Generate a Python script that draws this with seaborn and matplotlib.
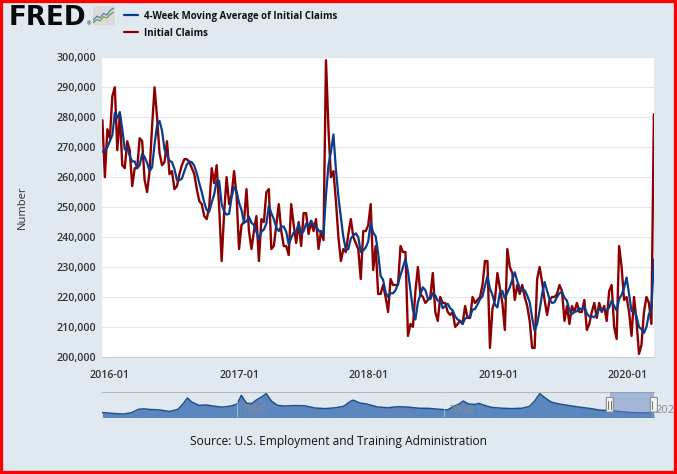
import numpy as np
import pandas as pd
import matplotlib
matplotlib.use("Agg")
import matplotlib.pyplot as plt
import matplotlib.dates as mdates
from matplotlib.lines import Line2D
from matplotlib.patches import Rectangle, FancyBboxPatch
from matplotlib.transforms import blended_transform_factory
from matplotlib.ticker import FuncFormatter
import seaborn as sns

# ---------------- data (thousands) ----------------
first_week = "2015-12-12"   # weekly, week ending Saturday

initial_claims_k = [
    279, 260, 276, 273, 287, 290, 269, 281, 264, 263,
    272, 269, 257, 263, 263, 273, 272, 259, 255, 262,
    277, 290, 280, 268, 264, 265, 272, 261, 262, 256,
    257, 261, 264, 266, 266, 265, 263, 261, 256, 252,
    251, 247, 246, 250, 263, 258, 264, 250, 232, 248,
    260, 251, 254, 262, 254, 236, 244, 245, 256, 242,
    236, 242, 247, 232, 246, 245, 255, 256, 236, 237,
    244, 251, 242, 237, 237, 234, 251, 244, 238, 245,
    237, 248, 248, 241, 245, 242, 246, 236, 242, 239,
    299, 276, 260, 262, 252, 240, 232, 236, 235, 241,
    246, 240, 238, 236, 226, 242, 242, 244, 251, 229,
    237, 221, 221, 224, 220, 215, 226, 224, 224, 224,
    237, 235, 235, 207, 211, 210, 222, 230, 221, 220,
    218, 219, 220, 228, 215, 212, 220, 218, 218, 215,
    214, 215, 210, 211, 212, 211, 217, 213, 213, 220,
    218, 219, 220, 224, 232, 232, 203, 216, 219, 228,
    223, 218, 209, 236, 230, 228, 219, 224, 221, 224,
    220, 217, 212, 203, 203, 226, 230, 225, 219, 214,
    219, 220, 220, 221, 224, 222, 212, 217, 211, 217,
    215, 218, 215, 215, 219, 209, 211, 215, 218, 213,
    218, 215, 217, 212, 222, 224, 210, 206, 237, 230,
    219, 220, 215, 207, 220, 212, 201, 204, 215, 220,
    218, 211, 281,
]

moving_avg_k = [
    268.5, 269.0, 270.0, 272.0, 274.0, 281.5, 279.75, 281.75, 276.0, 269.25,
    270.0, 267.0, 265.25, 265.25, 263.0, 264.0, 267.75, 266.75, 264.75, 262.0,
    263.25, 271.0, 277.25, 278.75, 275.5, 269.25, 267.25, 265.5, 265.0, 262.75,
    259.0, 259.0, 259.5, 262.0, 264.25, 265.25, 265.0, 263.75, 261.25, 258.0,
    255.0, 251.5, 249.0, 248.5, 251.5, 254.25, 258.75, 258.75, 251.0, 248.5,
    247.5, 247.75, 253.25, 256.75, 255.25, 251.5, 249.0, 244.75, 245.25, 246.75,
    244.75, 244.0, 241.75, 239.25, 241.75, 242.5, 244.5, 250.5, 248.0, 246.0,
    243.25, 242.0, 243.5, 243.5, 241.75, 237.5, 239.75, 241.5, 241.75, 244.5,
    241.0, 242.0, 244.5, 243.5, 245.5, 244.0, 243.5, 242.25, 241.5, 240.75,
    254.0, 264.0, 268.5, 274.25, 262.5, 253.5, 246.5, 240.0, 235.75, 236.0,
    239.5, 240.5, 241.25, 240.0, 235.0, 235.5, 236.5, 238.5, 244.75, 241.5,
    240.25, 234.5, 227.0, 225.75, 221.5, 220.0, 221.25, 221.25, 222.25, 224.5,
    227.25, 230.0, 232.75, 228.5, 222.0, 215.75, 212.5, 218.25, 220.75, 223.25,
    222.25, 219.5, 219.25, 221.25, 220.5, 218.75, 218.75, 216.25, 217.0, 217.75,
    216.25, 215.5, 213.5, 212.5, 212.0, 211.0, 212.75, 213.25, 213.5, 215.75,
    216.0, 217.5, 219.25, 220.25, 223.75, 227.0, 222.75, 220.75, 217.5, 216.5,
    221.5, 222.0, 219.5, 221.5, 223.25, 225.75, 228.25, 225.25, 223.0, 222.0,
    222.25, 220.5, 218.25, 213.0, 208.75, 211.0, 215.5, 221.0, 225.0, 222.0,
    219.25, 218.0, 218.25, 220.0, 221.25, 221.75, 219.75, 218.75, 215.5, 214.25,
    215.0, 215.25, 216.25, 215.75, 216.75, 214.5, 213.5, 213.5, 213.25, 214.25,
    216.0, 216.0, 215.75, 215.5, 216.5, 218.75, 217.0, 215.5, 219.25, 220.75,
    223.0, 226.5, 221.0, 215.25, 215.5, 213.5, 210.0, 209.25, 208.0, 210.0,
    214.25, 216.0, 232.5,
]

# navigator: long history of initial claims (thousands), by fractional year
nav_years = [1967.0, 1968.0, 1969.0, 1969.8, 1970.5, 1971.0, 1971.6, 1972.5, 1973.5,
             1974.3, 1974.8, 1975.2, 1975.6, 1976.3, 1977.0, 1977.8, 1978.6, 1979.4,
             1980.0, 1980.4, 1980.9, 1981.4, 1981.9, 1982.4, 1982.8, 1983.3, 1983.9,
             1984.6, 1985.5, 1986.5, 1987.5, 1988.5, 1989.5, 1990.3, 1990.9, 1991.2,
             1991.8, 1992.5, 1993.5, 1994.5, 1995.5, 1996.5, 1997.5, 1998.5, 1999.5,
             2000.3, 2000.9, 2001.4, 2001.8, 2002.3, 2002.9, 2003.3, 2003.8, 2004.5,
             2005.5, 2006.5, 2007.5, 2008.2, 2008.7, 2009.2, 2009.7, 2010.3, 2011.0,
             2012.0, 2013.0, 2014.0, 2015.0, 2016.0, 2017.0, 2018.0, 2019.0, 2020.2]
nav_claims_k = [225, 205, 190, 220, 300, 310, 295, 285, 250,
                300, 430, 560, 470, 390, 400, 370, 350, 375,
                420, 620, 440, 430, 520, 590, 660, 490, 390,
                375, 385, 380, 330, 315, 335, 370, 480, 510,
                445, 420, 355, 335, 360, 350, 325, 320, 300,
                285, 365, 420, 490, 425, 410, 435, 395, 345,
                325, 315, 325, 365, 490, 660, 560, 465, 425,
                385, 350, 320, 280, 268, 245, 225, 218, 215]
nav_label_years = [1980, 2000, 2020]

y_ticks_k = [200, 210, 220, 230, 240, 250, 260, 270, 280, 290, 300]
series_names = ["4-Week Moving Average of Initial Claims", "Initial Claims"]
y_title = "Number"
source_text = "Source: U.S. Employment and Training Administration"

# decorative logo icon
icon_x = [0, 1, 2, 3, 4, 5, 6]
icon_a = [1.2, 2.6, 2.0, 3.6, 3.0, 4.6, 5.4]
icon_b = [0.4, 1.4, 1.0, 2.4, 2.0, 3.2, 4.0]

# ---------------- style ----------------
sns.set_theme(style="white")
plt.rcParams['font.family'] = ['Open Sans', 'DejaVu Sans']

BG = "#E1E9F0"
RED = "#8C0000"
BLUE = "#0A3C8E"
TXT = "#333333"
AXC = "#C0D0E0"

W, H = 677, 474
fig = plt.figure(figsize=(W / 100, H / 100), dpi=100)
fig.patch.set_facecolor(BG)


def px_axes(x0, y0, x1, y1):
    return fig.add_axes([x0 / W, 1 - y1 / H, (x1 - x0) / W, (y1 - y0) / H])


# ---------------- main chart ----------------
ax = px_axes(102.4, 57.3, 653.9, 356.9)
ax.set_facecolor("white")
dates = pd.date_range(first_week, periods=len(initial_claims_k), freq="7D")
df = pd.DataFrame({
    "date": dates,
    "claims": np.array(initial_claims_k, dtype=float) * 1000,
    "ma": np.array(moving_avg_k, dtype=float) * 1000,
})
sns.lineplot(data=df, x="date", y="claims", ax=ax, color=RED, lw=1.7, zorder=3)
sns.lineplot(data=df, x="date", y="ma", ax=ax, color=BLUE, lw=1.6, zorder=4)

ax.set_xlim(dates[0], dates[-1])
ax.set_ylim(y_ticks_k[0] * 1000, y_ticks_k[-1] * 1000)
ax.set_yticks([v * 1000 for v in y_ticks_k])
ax.yaxis.set_major_formatter(FuncFormatter(lambda v, p: f"{v:,.0f}"))
ax.yaxis.grid(True, color="#E6E6E6", lw=0.8)
ax.xaxis.grid(False)
ax.set_axisbelow(True)
ax.xaxis.set_major_locator(mdates.YearLocator())
ax.xaxis.set_major_formatter(mdates.DateFormatter("%Y-%m"))
ax.set_xlabel("")
ax.set_ylabel("")
for s in ["top", "right", "left"]:
    ax.spines[s].set_visible(False)
ax.spines["bottom"].set_color(AXC)
ax.spines["bottom"].set_linewidth(0.8)
ax.tick_params(axis="x", length=7, width=0.8, color=AXC, pad=2.5,
               labelsize=7.7, labelcolor=TXT)
ax.tick_params(axis="y", length=0, pad=4.5, labelsize=7.7, labelcolor=TXT)
for lab in ax.get_xticklabels() + ax.get_yticklabels():
    lab.set_fontweight("semibold")

fig.text(22 / W, 1 - 207 / H, y_title, rotation=90, ha="center", va="center",
         fontsize=8, color=TXT)

# ---------------- header ----------------
fig.text(8.5 / W, 1 - 25 / H, "FRED", fontsize=18.8, fontweight="heavy",
         family="DejaVu Sans", color="#0A0A0A", va="baseline", ha="left")
fig.text(86.5 / W, 1 - 25 / H, "®", fontsize=4, color="#111111", va="baseline")
icon = px_axes(92.5, 6, 114.5, 25)
icon.set_facecolor("#DADADA")
icon.plot(icon_x, icon_a, color="#4F7FB5", lw=0.9)
icon.plot(icon_x, icon_b, color="#6E9E3C", lw=0.9)
icon.set_xlim(-0.3, 6.3)
icon.set_ylim(-0.5, 6.2)
icon.set_xticks([])
icon.set_yticks([])
for s in icon.spines.values():
    s.set_visible(False)

legend_rows = [(15, 19, BLUE, series_names[0]), (32, 36, RED, series_names[1])]
for y_line, y_base, col, name in legend_rows:
    fig.add_artist(Line2D([124 / W, 138 / W], [1 - y_line / H] * 2, color=col, lw=1.6))
    fig.text(144 / W, 1 - y_base / H, name, fontsize=7.0, fontweight="bold",
             color="#111111", va="baseline", ha="left")

# ---------------- navigator ----------------
nav = px_axes(102.4, 392.3, 653.9, 416.7)
nav.set_facecolor(BG)
nav.fill_between(nav_years, nav_claims_k, 0, color="#5B87BE", lw=0, zorder=1)
sns.lineplot(x=nav_years, y=nav_claims_k, ax=nav, color="#1F4F8F", lw=1.1, zorder=2)
nav.set_xlim(1967.0, 2020.2)
nav.set_ylim(130, 690)
nav.set_xticks([])
nav.set_yticks([])
nav.set_xlabel("")
nav.set_ylabel("")
for s in ["left", "right", "bottom"]:
    nav.spines[s].set_visible(False)
nav.spines["top"].set_color("#B8B8B8")
nav.spines["top"].set_linewidth(0.8)
bt = blended_transform_factory(nav.transData, nav.transAxes)
for yr in nav_label_years:
    nav.axvline(yr, color="#D5DEE8", lw=0.7, alpha=0.6, zorder=3)
    nav.text(yr + 0.35, 0.27, str(yr), transform=bt, fontsize=8, color="#8A8A8A",
             ha="left", va="center", clip_on=False, zorder=5)

sel0 = dates[0].year + (dates[0].dayofyear - 1) / 365.0
sel1 = dates[-1].year + (dates[-1].dayofyear - 1) / 366.0
nav.add_patch(Rectangle((sel0, 0), sel1 - sel0, 1, transform=bt,
                        facecolor=(102 / 255, 133 / 255, 194 / 255, 0.5),
                        edgecolor="none", zorder=4, clip_on=False))
hw = 7 / 551.5 * (2020.2 - 1967.0)
for xe in (sel0, sel1):
    nav.add_patch(FancyBboxPatch((xe - hw / 2, 0.19), hw, 0.6, transform=bt,
                                 boxstyle="round,pad=0,rounding_size=0.1",
                                 facecolor="#F4F4F4", edgecolor="#8C8C8C", lw=0.8,
                                 zorder=6, clip_on=False, mutation_aspect=0.1))
    for dx in (-0.2, 0.2):
        nav.add_artist(Line2D([xe + dx * hw, xe + dx * hw], [0.33, 0.65],
                              transform=bt, color="#555555", lw=0.6, zorder=7))

# ---------------- source ----------------
fig.text(338 / W, 1 - 441 / H, source_text, ha="center", va="center",
         fontsize=8.6, color="#111111")

# ---------------- red frame ----------------
fig.add_artist(Rectangle((0, 0), 1, 1, transform=fig.transFigure, fill=False,
                         edgecolor="#FF0000", lw=4.5, zorder=20))

fig.savefig("out.png", dpi=100, facecolor=fig.get_facecolor())
